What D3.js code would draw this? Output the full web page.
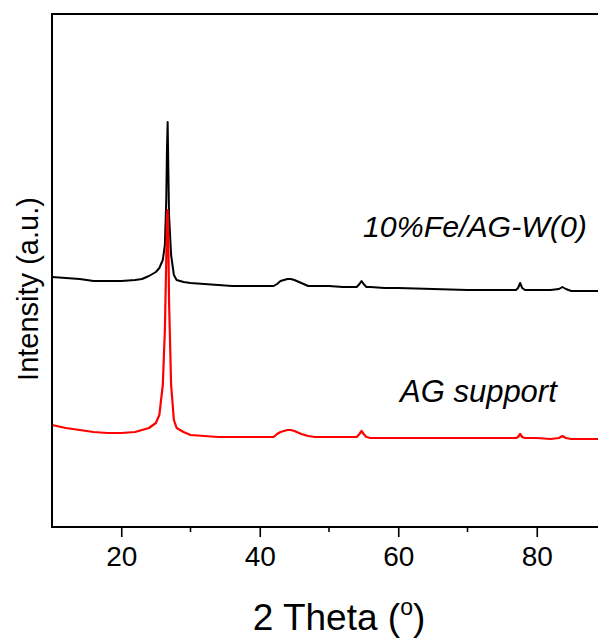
<!DOCTYPE html>
<html>
<head>
<meta charset="utf-8">
<script src="https://cdn.jsdelivr.net/npm/d3@7"></script>
<style>
  body { margin: 0; background: #fff; }
  svg { display: block; font-family: "Liberation Sans", Arial, sans-serif; }
</style>
</head>
<body>
<div id="chart"></div>
<script>
// 2 theta positions (degrees)
const twoTheta = [10, 12, 14, 16, 18, 20, 22, 23, 24, 25, 25.5, 26, 26.3, 26.5, 26.6, 26.7, 26.8, 26.9, 27.2, 27.6, 28, 29, 30, 32, 34, 36, 38, 40, 42, 42.5, 43, 43.5, 44, 44.5, 45, 46, 47, 48, 50, 52, 54, 54.4, 54.7, 55, 55.4, 56, 58, 60, 65, 70, 75, 77, 77.3, 77.6, 77.9, 78.3, 80, 82, 83.2, 83.7, 84.2, 85, 87, 90];

// intensities (a.u.), offset as plotted
const feSample = [250, 249, 248, 246, 246, 246, 247, 248, 251, 255, 259, 267, 282, 327, 377, 405, 357, 312, 272, 252, 247, 245, 244, 243, 242, 241, 241, 241, 241, 243, 246, 247, 248, 248, 247, 244, 241, 241, 241, 240, 240, 243, 246, 243, 240, 240, 239, 239, 238, 237, 237, 237, 239, 244, 239, 237, 237, 237, 238, 240, 238, 236, 236, 236];
const agSupport = [102, 99, 97, 95, 94, 94, 95, 97, 99, 104, 112, 142, 197, 267, 307, 317, 287, 227, 142, 107, 99, 95, 92, 91, 90, 90, 90, 90, 90, 93, 95, 96, 97, 97, 96, 93, 91, 90, 90, 90, 90, 93, 96, 93, 90, 89, 89, 89, 89, 89, 89, 89, 90, 93, 90, 89, 89, 88, 89, 91, 89, 88, 88, 88];

const seriesNames = ["10%Fe/AG-W(0)", "AG support"];
const seriesColors = ["#000000", "#ff0000"];
const xTicks = [20, 40, 60, 80];
const xMinor = [30, 50, 70];

const width = 598, height = 639;
const margin = { top: 14, left: 52, bottom: 112 };
const plotRight = 606; // frame runs past the right edge

const svg = d3.select("#chart").append("svg")
  .attr("width", width)
  .attr("height", height);

const x = d3.scaleLinear().domain([10, 90]).range([margin.left, plotRight]);
const y = d3.scaleLinear().domain([0, 513]).range([height - margin.bottom, margin.top]);

const line = d3.line()
  .x((d, i) => x(twoTheta[i]))
  .y(d => y(d));

// data lines (red drawn last, on top)
[feSample, agSupport].forEach((vals, k) => {
  svg.append("path")
    .datum(vals)
    .attr("fill", "none")
    .attr("stroke", seriesColors[k])
    .attr("stroke-width", k === 1 ? 2.2 : 2)
    .attr("stroke-linejoin", "round")
    .attr("d", line);
});

// frame
const y0 = y(0), y1 = y(513);
svg.append("path")
  .attr("d", `M${plotRight},${y1}H${margin.left}V${y0}H${plotRight}`)
  .attr("fill", "none")
  .attr("stroke", "#000")
  .attr("stroke-width", 2);

// x axis ticks
const xAxis = svg.append("g").attr("transform", `translate(0,${y0})`);
xAxis.call(d3.axisBottom(x).tickValues(xTicks).tickSize(10).tickPadding(9))
  .call(g => g.select(".domain").remove())
  .call(g => g.selectAll(".tick line").attr("stroke-width", 1.6))
  .call(g => g.selectAll(".tick text")
    .attr("font-size", 28)
    .attr("font-family", "Liberation Sans, Arial, sans-serif")
    .attr("fill", "#000"));
xAxis.selectAll(".minor")
  .data(xMinor)
  .enter().append("line")
  .attr("x1", d => x(d)).attr("x2", d => x(d))
  .attr("y1", 0).attr("y2", 5)
  .attr("stroke", "#000").attr("stroke-width", 1.6);

// axis titles
const xt = svg.append("text")
  .attr("x", 339).attr("y", 630)
  .attr("text-anchor", "middle")
  .attr("font-size", 37)
  .text("2 Theta (");
xt.append("tspan").attr("font-size", 23).attr("dy", -15).text("o");
xt.append("tspan").attr("dy", 15).text(")");

svg.append("text")
  .attr("transform", "translate(38,289) rotate(-90)")
  .attr("text-anchor", "middle")
  .attr("font-size", 29)
  .text("Intensity (a.u.)");

// series labels
svg.append("text")
  .attr("x", 363).attr("y", 237)
  .attr("font-size", 30.3)
  .attr("font-style", "italic")
  .text(seriesNames[0]);

svg.append("text")
  .attr("x", 400).attr("y", 402)
  .attr("font-size", 31)
  .attr("font-style", "italic")
  .text(seriesNames[1]);
</script>
</body>
</html>
